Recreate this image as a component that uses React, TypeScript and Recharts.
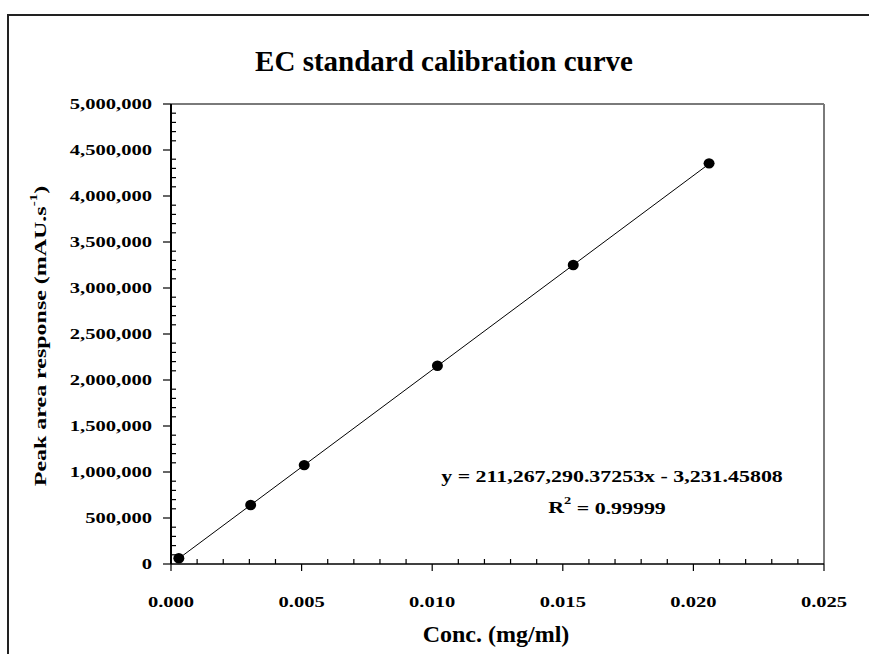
import { Scatter, ScatterChart, XAxis, YAxis } from 'recharts';

// EC standard calibration curve — peak area vs. concentration, with linear trendline
const CONC = [0.0003, 0.00305, 0.0051, 0.0102, 0.0154, 0.0206];
const PEAK_AREA = [62000, 641000, 1075000, 2155000, 3250000, 4355000];

// trendline end points (y = 211,267,290.37253x - 3,231.45808)
const TREND_X = [0.0003, 0.0206];
const TREND_Y = [60150, 4348876];

const X_TICKS = [0, 0.005, 0.01, 0.015, 0.02, 0.025];
const X_TICK_LABELS = ['0.000', '0.005', '0.010', '0.015', '0.020', '0.025'];
const Y_TICKS = [0, 500000, 1000000, 1500000, 2000000, 2500000, 3000000, 3500000, 4000000, 4500000, 5000000];
const Y_TICK_LABELS = [
  '0',
  '500,000',
  '1,000,000',
  '1,500,000',
  '2,000,000',
  '2,500,000',
  '3,000,000',
  '3,500,000',
  '4,000,000',
  '4,500,000',
  '5,000,000',
];
const MINOR_PER_MAJOR = 5;

const TITLE = 'EC standard calibration curve';
const X_LABEL = 'Conc. (mg/ml)';
const EQUATION = 'y = 211,267,290.37253x - 3,231.45808';
const R2_VALUE = ' = 0.99999';

const W = 869;
const H = 654;
const MARGIN = { top: 103, right: 44, bottom: 89, left: 170 };
const TICK_SIZE = 6;
const TICK_MARGIN = 2;

const FONT = '"Liberation Serif", "Times New Roman", serif';
// the wide bold serif of the original is approximated by stretching Liberation Serif
const WIDE = 1.37;

const points = CONC.map((x, i) => ({ x, y: PEAK_AREA[i] }));
const trend = TREND_X.map((x, i) => ({ x, y: TREND_Y[i] }));

function withMinor(major: number[]): number[] {
  const out: number[] = [];
  for (let i = 0; i < major.length - 1; i++) {
    const step = (major[i + 1] - major[i]) / MINOR_PER_MAJOR;
    for (let k = 0; k < MINOR_PER_MAJOR; k++) out.push(major[i] + step * k);
  }
  out.push(major[major.length - 1]);
  return out;
}

const X_ALL_TICKS = withMinor(X_TICKS);
const Y_ALL_TICKS = withMinor(Y_TICKS);

function majorIndex(list: number[], v: number) {
  return list.findIndex((t) => Math.abs(t - v) < Math.abs(list[1] - list[0]) * 1e-6);
}

function WideText(props: any) {
  const { x, y, anchor, size, rotate, children } = props;
  return (
    <g transform={`translate(${x},${y}) rotate(${rotate || 0}) scale(${WIDE},1)`}>
      <text
        x={0}
        y={0}
        textAnchor={anchor}
        dominantBaseline="central"
        fontFamily={FONT}
        fontWeight="bold"
        fontSize={size}
        fill="#000"
      >
        {children}
      </text>
    </g>
  );
}

function XTick(props: any) {
  const { x, y, payload } = props;
  const axisY = y - TICK_SIZE - TICK_MARGIN;
  const idx = majorIndex(X_TICKS, payload.value);
  if (idx < 0) {
    return <line x1={x} x2={x} y1={axisY} y2={axisY - 5} stroke="#000" strokeWidth={1.2} />;
  }
  return (
    <g>
      <line x1={x} x2={x} y1={axisY} y2={axisY + 7} stroke="#000" strokeWidth={1.2} />
      <WideText x={x} y={axisY + 38} anchor="middle" size={15}>
        {X_TICK_LABELS[idx]}
      </WideText>
    </g>
  );
}

function YTick(props: any) {
  const { x, y, payload } = props;
  const axisX = x + TICK_SIZE + TICK_MARGIN;
  const idx = majorIndex(Y_TICKS, payload.value);
  if (idx < 0) {
    return <line x1={axisX} x2={axisX + 5} y1={y} y2={y} stroke="#000" strokeWidth={1.2} />;
  }
  return (
    <g>
      <line x1={axisX - 8} x2={axisX} y1={y} y2={y} stroke="#000" strokeWidth={1.2} />
      <WideText x={axisX - 19} y={y} anchor="end" size={15}>
        {Y_TICK_LABELS[idx]}
      </WideText>
    </g>
  );
}

function Dot(props: any) {
  return <ellipse cx={props.cx} cy={props.cy} rx={5.5} ry={5.2} fill="#000" />;
}

export default function App() {
  return (
    <div style={{ position: 'absolute', left: 0, top: 0, width: W, height: H, background: '#fff' }}>
      <ScatterChart width={W} height={H} margin={MARGIN}>
        <XAxis
          xAxisId="top"
          orientation="top"
          type="number"
          domain={[0, 0.025]}
          height={1}
          tick={false}
          tickLine={false}
          axisLine={{ stroke: '#7a7a7a', strokeWidth: 2 }}
        />
        <YAxis
          yAxisId="right"
          orientation="right"
          type="number"
          domain={[0, 5000000]}
          width={1}
          tick={false}
          tickLine={false}
          axisLine={{ stroke: '#7a7a7a', strokeWidth: 2 }}
        />
        <XAxis
          dataKey="x"
          type="number"
          domain={[0, 0.025]}
          ticks={X_ALL_TICKS}
          interval={0}
          height={1}
          tickSize={TICK_SIZE}
          tickMargin={TICK_MARGIN}
          tickLine={false}
          tick={<XTick />}
          axisLine={{ stroke: '#000', strokeWidth: 1.5 }}
        />
        <YAxis
          dataKey="y"
          type="number"
          domain={[0, 5000000]}
          ticks={Y_ALL_TICKS}
          interval={0}
          width={1}
          tickSize={TICK_SIZE}
          tickMargin={TICK_MARGIN}
          tickLine={false}
          tick={<YTick />}
          axisLine={{ stroke: '#000', strokeWidth: 2 }}
        />
        <Scatter
          data={trend}
          line={{ stroke: '#000', strokeWidth: 1 }}
          lineType="joint"
          shape={() => <g />}
          isAnimationActive={false}
        />
        <Scatter data={points} shape={<Dot />} isAnimationActive={false} />
      </ScatterChart>
      <svg
        width={W}
        height={H}
        style={{ position: 'absolute', left: 0, top: 0, pointerEvents: 'none' }}
      >
        <line x1={7} x2={W} y1={15} y2={15} stroke="#222" strokeWidth={2} />
        <line x1={8} x2={8} y1={14} y2={H} stroke="#222" strokeWidth={2} />
        <text
          x={444}
          y={61}
          textAnchor="middle"
          dominantBaseline="central"
          fontFamily={FONT}
          fontWeight="bold"
          fontSize={29}
          fill="#000"
        >
          {TITLE}
        </text>
        <text
          x={496}
          y={634}
          textAnchor="middle"
          dominantBaseline="central"
          fontFamily={FONT}
          fontWeight="bold"
          fontSize={24}
          fill="#000"
        >
          {X_LABEL}
        </text>
        <WideText x={40} y={336} anchor="middle" size={17.5} rotate={-90}>
          Peak area response (mAU.s
          <tspan fontSize={11} dy={-7}>
            -1
          </tspan>
          <tspan dy={7}>)</tspan>
        </WideText>
        <WideText x={612} y={477} anchor="middle" size={16}>
          {EQUATION}
        </WideText>
        <WideText x={607} y={508} anchor="middle" size={16}>
          R
          <tspan fontSize={10.5} dy={-7}>
            2
          </tspan>
          <tspan dy={7}>{R2_VALUE}</tspan>
        </WideText>
      </svg>
    </div>
  );
}
